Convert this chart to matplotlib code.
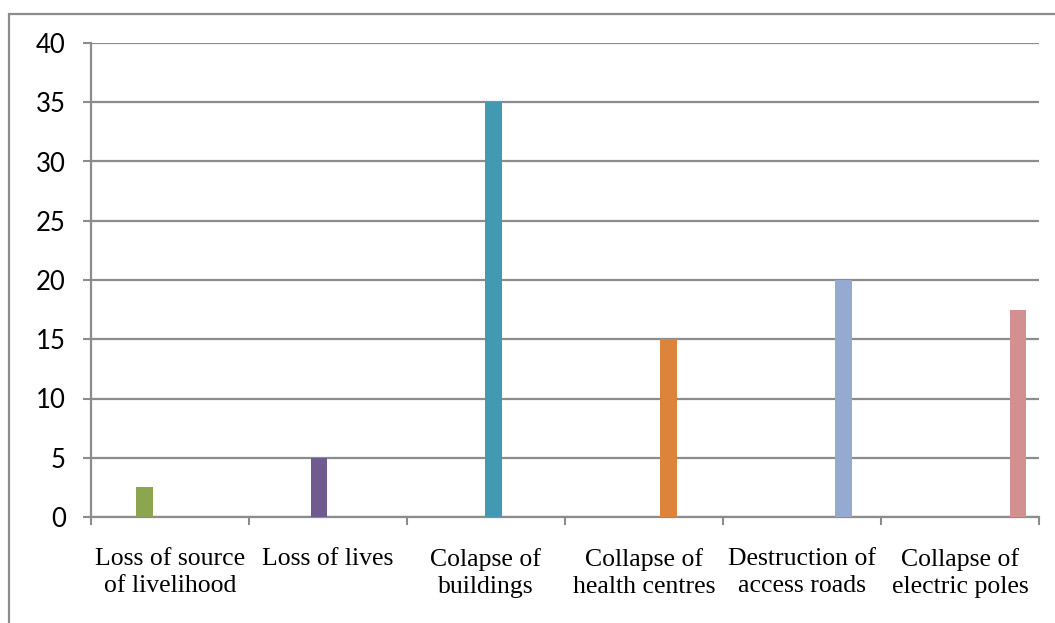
import matplotlib
matplotlib.use("Agg")
import matplotlib.pyplot as plt
import numpy as np
from matplotlib.patches import Rectangle

categories = ["Loss of source\nof livelihood", "Loss of lives", "Colapse of\nbuildings",
              "Collapse of\nhealth centres", "Destruction of\naccess roads", "Collapse of\nelectric poles"]
values = [2.5, 5, 35, 15, 20, 17.5]
colors = ["#8BA64E", "#705A8F", "#4399B1", "#DD843C", "#95A9D1", "#D39090"]
yticks = [0, 5, 10, 15, 20, 25, 30, 35, 40]

W, H = 1055, 623
fig = plt.figure(figsize=(W / 100, H / 100), dpi=100)
fig.patch.set_facecolor("white")
fig.patches.append(Rectangle((9 / W, 0 - 0.01), 1.1, 1 - 14 / H + 0.01, transform=fig.transFigure,
                             fill=False, edgecolor="#8c8c8c", linewidth=1.6, figure=fig))

ax = fig.add_axes([90.7 / W, 1 - 517 / H, (1039 - 90.7) / W, (517 - 43) / H])
n = len(values)
bw = 0.1055
x = np.arange(n)
for j in range(n):
    ax.bar(x[j] - 0.161 + j * bw, values[j], width=bw, color=colors[j], zorder=3)

ax.set_xlim(-0.5, n - 0.5)
ax.set_ylim(0, 40)
ax.set_yticks(yticks)
ax.set_yticklabels([str(v) for v in yticks], fontfamily=["Lato", "DejaVu Sans"], fontsize=18.5)
ax.yaxis.grid(True, color="#8c8c8c", linewidth=1.6, zorder=0)
ax.set_axisbelow(True)
for s in ["top", "right"]:
    ax.spines[s].set_visible(False)
for s in ["left", "bottom"]:
    ax.spines[s].set_color("#8c8c8c")
    ax.spines[s].set_linewidth(1.6)
ax.tick_params(axis="y", length=6, width=1.5, color="#8c8c8c", pad=12)

ax.set_xticks(x)
ax.set_xticklabels(categories, fontfamily="Liberation Serif", fontsize=18.5, linespacing=1.3)
ax.tick_params(axis="x", which="major", length=0, pad=22)
ax.set_xticks(np.arange(n + 1) - 0.5, minor=True)
ax.tick_params(axis="x", which="minor", length=6, width=1.5, color="#8c8c8c")

fig.savefig("out.png", dpi=100)
